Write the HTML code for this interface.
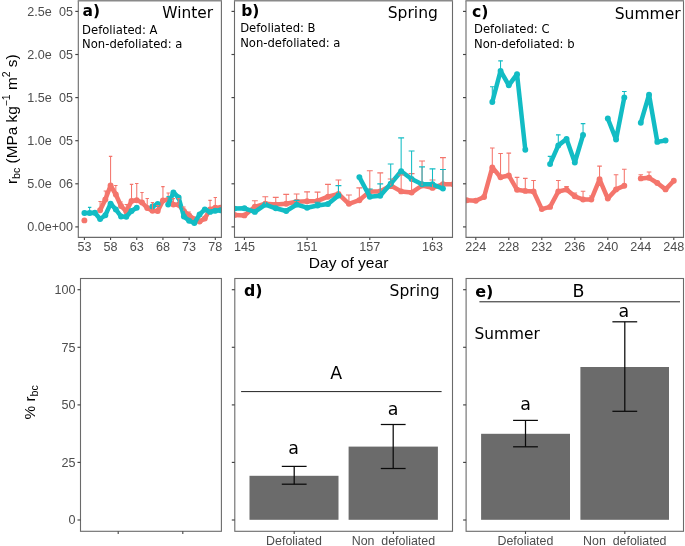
<!DOCTYPE html>
<html lang="en"><head><meta charset="utf-8"><title>Figure</title>
<style>html,body{margin:0;padding:0;background:#fff}svg text{white-space:pre}</style></head>
<body>
<svg width="685" height="546" viewBox="0 0 685 546" style="display:block">
<rect x="0" y="0" width="685" height="546" fill="#ffffff"/>
<defs>
<clipPath id="ca"><rect x="78.3" y="0.7" width="143.10000000000002" height="236.70000000000002"/></clipPath>
<clipPath id="cb"><rect x="234.5" y="0.7" width="218.0" height="236.70000000000002"/></clipPath>
<clipPath id="cc"><rect x="466.0" y="0.7" width="217.5" height="236.70000000000002"/></clipPath>
</defs>
<g clip-path="url(#ca)">
<polyline points="100.11,210.20 105.34,199.50 110.58,185.50 115.82,194.50 121.05,206.00 126.29,211.40 131.52,201.00 136.76,200.30 142.00,202.50 147.23,208.00 152.47,210.70 157.70,211.00 162.94,200.50 168.18,199.60 173.41,204.60 178.65,204.80 183.88,211.00 189.12,215.40 194.36,219.30 199.59,221.50 204.83,218.50 210.06,209.40 215.30,207.80 220.54,207.80 225.77,207.80" fill="none" stroke="#F4756C" stroke-width="4.5" stroke-linejoin="round" stroke-linecap="butt"/>
<circle cx="100.11" cy="210.20" r="2.95" fill="#F4756C"/>
<circle cx="105.34" cy="199.50" r="2.95" fill="#F4756C"/>
<circle cx="110.58" cy="185.50" r="2.95" fill="#F4756C"/>
<circle cx="115.82" cy="194.50" r="2.95" fill="#F4756C"/>
<circle cx="121.05" cy="206.00" r="2.95" fill="#F4756C"/>
<circle cx="126.29" cy="211.40" r="2.95" fill="#F4756C"/>
<circle cx="131.52" cy="201.00" r="2.95" fill="#F4756C"/>
<circle cx="136.76" cy="200.30" r="2.95" fill="#F4756C"/>
<circle cx="142.00" cy="202.50" r="2.95" fill="#F4756C"/>
<circle cx="147.23" cy="208.00" r="2.95" fill="#F4756C"/>
<circle cx="152.47" cy="210.70" r="2.95" fill="#F4756C"/>
<circle cx="157.70" cy="211.00" r="2.95" fill="#F4756C"/>
<circle cx="162.94" cy="200.50" r="2.95" fill="#F4756C"/>
<circle cx="168.18" cy="199.60" r="2.95" fill="#F4756C"/>
<circle cx="173.41" cy="204.60" r="2.95" fill="#F4756C"/>
<circle cx="178.65" cy="204.80" r="2.95" fill="#F4756C"/>
<circle cx="183.88" cy="211.00" r="2.95" fill="#F4756C"/>
<circle cx="189.12" cy="215.40" r="2.95" fill="#F4756C"/>
<circle cx="194.36" cy="219.30" r="2.95" fill="#F4756C"/>
<circle cx="199.59" cy="221.50" r="2.95" fill="#F4756C"/>
<circle cx="204.83" cy="218.50" r="2.95" fill="#F4756C"/>
<circle cx="210.06" cy="209.40" r="2.95" fill="#F4756C"/>
<circle cx="215.30" cy="207.80" r="2.95" fill="#F4756C"/>
<circle cx="220.54" cy="207.80" r="2.95" fill="#F4756C"/>
<circle cx="225.77" cy="207.80" r="2.95" fill="#F4756C"/>
<circle cx="84.40" cy="220.40" r="2.95" fill="#F4756C"/>
<polyline points="84.40,213.00 89.64,213.00 94.87,212.70 100.11,219.00 105.34,215.20 110.58,203.60 115.82,209.40 121.05,216.50 126.29,216.80 131.52,211.00 136.76,207.70" fill="none" stroke="#12BCC4" stroke-width="4.5" stroke-linejoin="round" stroke-linecap="butt"/>
<polyline points="152.47,206.50 157.70,204.00" fill="none" stroke="#12BCC4" stroke-width="4.5" stroke-linejoin="round" stroke-linecap="butt"/>
<polyline points="168.18,204.60 173.41,192.50 178.65,197.50 183.88,216.50 189.12,220.80 194.36,223.00 199.59,214.50 204.83,209.40 210.06,211.90 215.30,210.70 220.54,210.20 225.77,210.20" fill="none" stroke="#12BCC4" stroke-width="4.5" stroke-linejoin="round" stroke-linecap="butt"/>
<circle cx="84.40" cy="213.00" r="2.95" fill="#12BCC4"/>
<circle cx="89.64" cy="213.00" r="2.95" fill="#12BCC4"/>
<circle cx="94.87" cy="212.70" r="2.95" fill="#12BCC4"/>
<circle cx="100.11" cy="219.00" r="2.95" fill="#12BCC4"/>
<circle cx="105.34" cy="215.20" r="2.95" fill="#12BCC4"/>
<circle cx="110.58" cy="203.60" r="2.95" fill="#12BCC4"/>
<circle cx="115.82" cy="209.40" r="2.95" fill="#12BCC4"/>
<circle cx="121.05" cy="216.50" r="2.95" fill="#12BCC4"/>
<circle cx="126.29" cy="216.80" r="2.95" fill="#12BCC4"/>
<circle cx="131.52" cy="211.00" r="2.95" fill="#12BCC4"/>
<circle cx="136.76" cy="207.70" r="2.95" fill="#12BCC4"/>
<circle cx="152.47" cy="206.50" r="2.95" fill="#12BCC4"/>
<circle cx="157.70" cy="204.00" r="2.95" fill="#12BCC4"/>
<circle cx="168.18" cy="204.60" r="2.95" fill="#12BCC4"/>
<circle cx="173.41" cy="192.50" r="2.95" fill="#12BCC4"/>
<circle cx="178.65" cy="197.50" r="2.95" fill="#12BCC4"/>
<circle cx="183.88" cy="216.50" r="2.95" fill="#12BCC4"/>
<circle cx="189.12" cy="220.80" r="2.95" fill="#12BCC4"/>
<circle cx="194.36" cy="223.00" r="2.95" fill="#12BCC4"/>
<circle cx="199.59" cy="214.50" r="2.95" fill="#12BCC4"/>
<circle cx="204.83" cy="209.40" r="2.95" fill="#12BCC4"/>
<circle cx="210.06" cy="211.90" r="2.95" fill="#12BCC4"/>
<circle cx="215.30" cy="210.70" r="2.95" fill="#12BCC4"/>
<circle cx="220.54" cy="210.20" r="2.95" fill="#12BCC4"/>
<circle cx="225.77" cy="210.20" r="2.95" fill="#12BCC4"/>
<line x1="100.11" y1="210.20" x2="100.11" y2="201.50" stroke="#F4756C" stroke-width="1.05" />
<line x1="98.41" y1="201.50" x2="101.81" y2="201.50" stroke="#F4756C" stroke-width="1.15" />
<line x1="105.34" y1="199.50" x2="105.34" y2="191.00" stroke="#F4756C" stroke-width="1.05" />
<line x1="103.64" y1="191.00" x2="107.04" y2="191.00" stroke="#F4756C" stroke-width="1.15" />
<line x1="110.58" y1="185.50" x2="110.58" y2="156.30" stroke="#F4756C" stroke-width="1.05" />
<line x1="108.88" y1="156.30" x2="112.28" y2="156.30" stroke="#F4756C" stroke-width="1.15" />
<line x1="115.82" y1="194.50" x2="115.82" y2="185.50" stroke="#F4756C" stroke-width="1.05" />
<line x1="114.12" y1="185.50" x2="117.52" y2="185.50" stroke="#F4756C" stroke-width="1.15" />
<line x1="121.05" y1="206.00" x2="121.05" y2="202.00" stroke="#F4756C" stroke-width="1.05" />
<line x1="119.35" y1="202.00" x2="122.75" y2="202.00" stroke="#F4756C" stroke-width="1.15" />
<line x1="126.29" y1="211.40" x2="126.29" y2="204.50" stroke="#F4756C" stroke-width="1.05" />
<line x1="124.59" y1="204.50" x2="127.99" y2="204.50" stroke="#F4756C" stroke-width="1.15" />
<line x1="131.52" y1="201.00" x2="131.52" y2="184.30" stroke="#F4756C" stroke-width="1.05" />
<line x1="129.82" y1="184.30" x2="133.22" y2="184.30" stroke="#F4756C" stroke-width="1.15" />
<line x1="136.76" y1="200.30" x2="136.76" y2="183.50" stroke="#F4756C" stroke-width="1.05" />
<line x1="135.06" y1="183.50" x2="138.46" y2="183.50" stroke="#F4756C" stroke-width="1.15" />
<line x1="142.00" y1="202.50" x2="142.00" y2="192.50" stroke="#F4756C" stroke-width="1.05" />
<line x1="140.30" y1="192.50" x2="143.70" y2="192.50" stroke="#F4756C" stroke-width="1.15" />
<line x1="147.23" y1="208.00" x2="147.23" y2="198.50" stroke="#F4756C" stroke-width="1.05" />
<line x1="145.53" y1="198.50" x2="148.93" y2="198.50" stroke="#F4756C" stroke-width="1.15" />
<line x1="152.47" y1="210.70" x2="152.47" y2="202.50" stroke="#F4756C" stroke-width="1.05" />
<line x1="150.77" y1="202.50" x2="154.17" y2="202.50" stroke="#F4756C" stroke-width="1.15" />
<line x1="157.70" y1="211.00" x2="157.70" y2="205.50" stroke="#F4756C" stroke-width="1.05" />
<line x1="156.00" y1="205.50" x2="159.40" y2="205.50" stroke="#F4756C" stroke-width="1.15" />
<line x1="162.94" y1="200.50" x2="162.94" y2="186.60" stroke="#F4756C" stroke-width="1.05" />
<line x1="161.24" y1="186.60" x2="164.64" y2="186.60" stroke="#F4756C" stroke-width="1.15" />
<line x1="168.18" y1="199.60" x2="168.18" y2="193.00" stroke="#F4756C" stroke-width="1.05" />
<line x1="166.48" y1="193.00" x2="169.88" y2="193.00" stroke="#F4756C" stroke-width="1.15" />
<line x1="173.41" y1="204.60" x2="173.41" y2="198.60" stroke="#F4756C" stroke-width="1.05" />
<line x1="171.71" y1="198.60" x2="175.11" y2="198.60" stroke="#F4756C" stroke-width="1.15" />
<line x1="178.65" y1="204.80" x2="178.65" y2="198.60" stroke="#F4756C" stroke-width="1.05" />
<line x1="176.95" y1="198.60" x2="180.35" y2="198.60" stroke="#F4756C" stroke-width="1.15" />
<line x1="183.88" y1="211.00" x2="183.88" y2="207.00" stroke="#F4756C" stroke-width="1.05" />
<line x1="182.18" y1="207.00" x2="185.58" y2="207.00" stroke="#F4756C" stroke-width="1.15" />
<line x1="189.12" y1="215.40" x2="189.12" y2="212.00" stroke="#F4756C" stroke-width="1.05" />
<line x1="187.42" y1="212.00" x2="190.82" y2="212.00" stroke="#F4756C" stroke-width="1.15" />
<line x1="210.06" y1="209.40" x2="210.06" y2="200.30" stroke="#F4756C" stroke-width="1.05" />
<line x1="208.36" y1="200.30" x2="211.76" y2="200.30" stroke="#F4756C" stroke-width="1.15" />
<line x1="215.30" y1="207.80" x2="215.30" y2="197.50" stroke="#F4756C" stroke-width="1.05" />
<line x1="213.60" y1="197.50" x2="217.00" y2="197.50" stroke="#F4756C" stroke-width="1.15" />
<line x1="89.64" y1="213.00" x2="89.64" y2="207.40" stroke="#12BCC4" stroke-width="1.05" />
<line x1="87.94" y1="207.40" x2="91.34" y2="207.40" stroke="#12BCC4" stroke-width="1.15" />
<line x1="168.18" y1="204.60" x2="168.18" y2="196.50" stroke="#12BCC4" stroke-width="1.05" />
<line x1="166.48" y1="196.50" x2="169.88" y2="196.50" stroke="#12BCC4" stroke-width="1.15" />
</g>
<g clip-path="url(#cb)">
<polyline points="234.58,215.00 244.40,215.40 254.85,206.80 265.30,203.70 275.75,204.60 286.20,203.70 296.65,201.80 307.10,201.30 317.55,200.90 328.00,196.70 338.45,193.90 348.90,203.80 359.35,200.20 369.80,191.40 380.25,191.40 390.70,185.50 401.15,191.40 411.60,192.60 422.05,185.50 432.50,187.90 442.95,184.30 453.40,184.30" fill="none" stroke="#F4756C" stroke-width="4.5" stroke-linejoin="round" stroke-linecap="butt"/>
<circle cx="234.58" cy="215.00" r="2.95" fill="#F4756C"/>
<circle cx="244.40" cy="215.40" r="2.95" fill="#F4756C"/>
<circle cx="254.85" cy="206.80" r="2.95" fill="#F4756C"/>
<circle cx="265.30" cy="203.70" r="2.95" fill="#F4756C"/>
<circle cx="275.75" cy="204.60" r="2.95" fill="#F4756C"/>
<circle cx="286.20" cy="203.70" r="2.95" fill="#F4756C"/>
<circle cx="296.65" cy="201.80" r="2.95" fill="#F4756C"/>
<circle cx="307.10" cy="201.30" r="2.95" fill="#F4756C"/>
<circle cx="317.55" cy="200.90" r="2.95" fill="#F4756C"/>
<circle cx="328.00" cy="196.70" r="2.95" fill="#F4756C"/>
<circle cx="338.45" cy="193.90" r="2.95" fill="#F4756C"/>
<circle cx="348.90" cy="203.80" r="2.95" fill="#F4756C"/>
<circle cx="359.35" cy="200.20" r="2.95" fill="#F4756C"/>
<circle cx="369.80" cy="191.40" r="2.95" fill="#F4756C"/>
<circle cx="380.25" cy="191.40" r="2.95" fill="#F4756C"/>
<circle cx="390.70" cy="185.50" r="2.95" fill="#F4756C"/>
<circle cx="401.15" cy="191.40" r="2.95" fill="#F4756C"/>
<circle cx="411.60" cy="192.60" r="2.95" fill="#F4756C"/>
<circle cx="422.05" cy="185.50" r="2.95" fill="#F4756C"/>
<circle cx="432.50" cy="187.90" r="2.95" fill="#F4756C"/>
<circle cx="442.95" cy="184.30" r="2.95" fill="#F4756C"/>
<circle cx="453.40" cy="184.30" r="2.95" fill="#F4756C"/>
<polyline points="234.58,208.60 244.40,208.30 254.85,211.90 265.30,204.60 275.75,208.30 286.20,211.00 296.65,204.60 307.10,207.70 317.55,205.50 328.00,204.00 338.45,195.50" fill="none" stroke="#12BCC4" stroke-width="4.5" stroke-linejoin="round" stroke-linecap="butt"/>
<polyline points="359.35,177.10 369.80,196.70 380.25,195.70 390.70,183.80 401.15,171.20 411.60,179.00 422.05,184.30 432.50,184.30 442.95,188.60" fill="none" stroke="#12BCC4" stroke-width="4.5" stroke-linejoin="round" stroke-linecap="butt"/>
<circle cx="234.58" cy="208.60" r="2.95" fill="#12BCC4"/>
<circle cx="244.40" cy="208.30" r="2.95" fill="#12BCC4"/>
<circle cx="254.85" cy="211.90" r="2.95" fill="#12BCC4"/>
<circle cx="265.30" cy="204.60" r="2.95" fill="#12BCC4"/>
<circle cx="275.75" cy="208.30" r="2.95" fill="#12BCC4"/>
<circle cx="286.20" cy="211.00" r="2.95" fill="#12BCC4"/>
<circle cx="296.65" cy="204.60" r="2.95" fill="#12BCC4"/>
<circle cx="307.10" cy="207.70" r="2.95" fill="#12BCC4"/>
<circle cx="317.55" cy="205.50" r="2.95" fill="#12BCC4"/>
<circle cx="328.00" cy="204.00" r="2.95" fill="#12BCC4"/>
<circle cx="338.45" cy="195.50" r="2.95" fill="#12BCC4"/>
<circle cx="359.35" cy="177.10" r="2.95" fill="#12BCC4"/>
<circle cx="369.80" cy="196.70" r="2.95" fill="#12BCC4"/>
<circle cx="380.25" cy="195.70" r="2.95" fill="#12BCC4"/>
<circle cx="390.70" cy="183.80" r="2.95" fill="#12BCC4"/>
<circle cx="401.15" cy="171.20" r="2.95" fill="#12BCC4"/>
<circle cx="411.60" cy="179.00" r="2.95" fill="#12BCC4"/>
<circle cx="422.05" cy="184.30" r="2.95" fill="#12BCC4"/>
<circle cx="432.50" cy="184.30" r="2.95" fill="#12BCC4"/>
<circle cx="442.95" cy="188.60" r="2.95" fill="#12BCC4"/>
<line x1="254.85" y1="206.80" x2="254.85" y2="200.70" stroke="#F4756C" stroke-width="1.05" />
<line x1="251.90" y1="200.70" x2="257.80" y2="200.70" stroke="#F4756C" stroke-width="1.15" />
<line x1="265.30" y1="203.70" x2="265.30" y2="196.70" stroke="#F4756C" stroke-width="1.05" />
<line x1="262.35" y1="196.70" x2="268.25" y2="196.70" stroke="#F4756C" stroke-width="1.15" />
<line x1="275.75" y1="204.60" x2="275.75" y2="197.30" stroke="#F4756C" stroke-width="1.05" />
<line x1="272.80" y1="197.30" x2="278.70" y2="197.30" stroke="#F4756C" stroke-width="1.15" />
<line x1="286.20" y1="203.70" x2="286.20" y2="194.30" stroke="#F4756C" stroke-width="1.05" />
<line x1="283.25" y1="194.30" x2="289.15" y2="194.30" stroke="#F4756C" stroke-width="1.15" />
<line x1="296.65" y1="201.80" x2="296.65" y2="194.00" stroke="#F4756C" stroke-width="1.05" />
<line x1="293.70" y1="194.00" x2="299.60" y2="194.00" stroke="#F4756C" stroke-width="1.15" />
<line x1="307.10" y1="201.30" x2="307.10" y2="191.80" stroke="#F4756C" stroke-width="1.05" />
<line x1="304.15" y1="191.80" x2="310.05" y2="191.80" stroke="#F4756C" stroke-width="1.15" />
<line x1="317.55" y1="200.90" x2="317.55" y2="192.10" stroke="#F4756C" stroke-width="1.05" />
<line x1="314.60" y1="192.10" x2="320.50" y2="192.10" stroke="#F4756C" stroke-width="1.15" />
<line x1="328.00" y1="196.70" x2="328.00" y2="184.40" stroke="#F4756C" stroke-width="1.05" />
<line x1="325.05" y1="184.40" x2="330.95" y2="184.40" stroke="#F4756C" stroke-width="1.15" />
<line x1="338.45" y1="193.90" x2="338.45" y2="180.00" stroke="#F4756C" stroke-width="1.05" />
<line x1="335.50" y1="180.00" x2="341.40" y2="180.00" stroke="#F4756C" stroke-width="1.15" />
<line x1="348.90" y1="203.80" x2="348.90" y2="195.00" stroke="#F4756C" stroke-width="1.05" />
<line x1="345.95" y1="195.00" x2="351.85" y2="195.00" stroke="#F4756C" stroke-width="1.15" />
<line x1="359.35" y1="200.20" x2="359.35" y2="187.90" stroke="#F4756C" stroke-width="1.05" />
<line x1="356.40" y1="187.90" x2="362.30" y2="187.90" stroke="#F4756C" stroke-width="1.15" />
<line x1="369.80" y1="191.40" x2="369.80" y2="170.70" stroke="#F4756C" stroke-width="1.05" />
<line x1="366.85" y1="170.70" x2="372.75" y2="170.70" stroke="#F4756C" stroke-width="1.15" />
<line x1="380.25" y1="191.40" x2="380.25" y2="172.90" stroke="#F4756C" stroke-width="1.05" />
<line x1="377.30" y1="172.90" x2="383.20" y2="172.90" stroke="#F4756C" stroke-width="1.15" />
<line x1="390.70" y1="185.50" x2="390.70" y2="179.00" stroke="#F4756C" stroke-width="1.05" />
<line x1="387.75" y1="179.00" x2="393.65" y2="179.00" stroke="#F4756C" stroke-width="1.15" />
<line x1="401.15" y1="191.40" x2="401.15" y2="175.00" stroke="#F4756C" stroke-width="1.05" />
<line x1="398.20" y1="175.00" x2="404.10" y2="175.00" stroke="#F4756C" stroke-width="1.15" />
<line x1="411.60" y1="192.60" x2="411.60" y2="173.60" stroke="#F4756C" stroke-width="1.05" />
<line x1="408.65" y1="173.60" x2="414.55" y2="173.60" stroke="#F4756C" stroke-width="1.15" />
<line x1="422.05" y1="185.50" x2="422.05" y2="161.00" stroke="#F4756C" stroke-width="1.05" />
<line x1="419.10" y1="161.00" x2="425.00" y2="161.00" stroke="#F4756C" stroke-width="1.15" />
<line x1="432.50" y1="187.90" x2="432.50" y2="180.00" stroke="#F4756C" stroke-width="1.05" />
<line x1="429.55" y1="180.00" x2="435.45" y2="180.00" stroke="#F4756C" stroke-width="1.15" />
<line x1="442.95" y1="184.30" x2="442.95" y2="157.60" stroke="#F4756C" stroke-width="1.05" />
<line x1="440.00" y1="157.60" x2="445.90" y2="157.60" stroke="#F4756C" stroke-width="1.15" />
<line x1="296.65" y1="204.60" x2="296.65" y2="200.40" stroke="#12BCC4" stroke-width="1.05" />
<line x1="293.70" y1="200.40" x2="299.60" y2="200.40" stroke="#12BCC4" stroke-width="1.15" />
<line x1="317.55" y1="205.50" x2="317.55" y2="202.20" stroke="#12BCC4" stroke-width="1.05" />
<line x1="314.60" y1="202.20" x2="320.50" y2="202.20" stroke="#12BCC4" stroke-width="1.15" />
<line x1="338.45" y1="195.50" x2="338.45" y2="185.60" stroke="#12BCC4" stroke-width="1.05" />
<line x1="335.50" y1="185.60" x2="341.40" y2="185.60" stroke="#12BCC4" stroke-width="1.15" />
<line x1="369.80" y1="196.70" x2="369.80" y2="189.00" stroke="#12BCC4" stroke-width="1.05" />
<line x1="366.85" y1="189.00" x2="372.75" y2="189.00" stroke="#12BCC4" stroke-width="1.15" />
<line x1="380.25" y1="195.70" x2="380.25" y2="183.80" stroke="#12BCC4" stroke-width="1.05" />
<line x1="377.30" y1="183.80" x2="383.20" y2="183.80" stroke="#12BCC4" stroke-width="1.15" />
<line x1="390.70" y1="183.80" x2="390.70" y2="164.00" stroke="#12BCC4" stroke-width="1.05" />
<line x1="387.75" y1="164.00" x2="393.65" y2="164.00" stroke="#12BCC4" stroke-width="1.15" />
<line x1="401.15" y1="171.20" x2="401.15" y2="137.90" stroke="#12BCC4" stroke-width="1.05" />
<line x1="398.20" y1="137.90" x2="404.10" y2="137.90" stroke="#12BCC4" stroke-width="1.15" />
<line x1="411.60" y1="179.00" x2="411.60" y2="151.00" stroke="#12BCC4" stroke-width="1.05" />
<line x1="408.65" y1="151.00" x2="414.55" y2="151.00" stroke="#12BCC4" stroke-width="1.15" />
<line x1="422.05" y1="184.30" x2="422.05" y2="166.90" stroke="#12BCC4" stroke-width="1.05" />
<line x1="419.10" y1="166.90" x2="425.00" y2="166.90" stroke="#12BCC4" stroke-width="1.15" />
<line x1="432.50" y1="184.30" x2="432.50" y2="168.80" stroke="#12BCC4" stroke-width="1.05" />
<line x1="429.55" y1="168.80" x2="435.45" y2="168.80" stroke="#12BCC4" stroke-width="1.15" />
<line x1="442.95" y1="188.60" x2="442.95" y2="169.50" stroke="#12BCC4" stroke-width="1.05" />
<line x1="440.00" y1="169.50" x2="445.90" y2="169.50" stroke="#12BCC4" stroke-width="1.15" />
</g>
<g clip-path="url(#cc)">
<polyline points="466.73,200.30 475.80,200.80 484.05,197.00 492.30,167.40 500.55,177.30 508.80,175.50 517.05,189.80 525.30,190.90 533.55,191.50 541.80,209.10 550.05,206.90 558.30,191.50 566.55,189.60 574.80,196.30 583.05,199.50 591.30,199.50 599.55,179.30 607.80,198.60 616.05,189.40 624.30,185.70" fill="none" stroke="#F4756C" stroke-width="4.5" stroke-linejoin="round" stroke-linecap="butt"/>
<polyline points="640.80,178.40 649.05,177.80 657.30,183.00 665.55,189.40 673.80,180.80" fill="none" stroke="#F4756C" stroke-width="4.5" stroke-linejoin="round" stroke-linecap="butt"/>
<circle cx="466.73" cy="200.30" r="2.95" fill="#F4756C"/>
<circle cx="475.80" cy="200.80" r="2.95" fill="#F4756C"/>
<circle cx="484.05" cy="197.00" r="2.95" fill="#F4756C"/>
<circle cx="492.30" cy="167.40" r="2.95" fill="#F4756C"/>
<circle cx="500.55" cy="177.30" r="2.95" fill="#F4756C"/>
<circle cx="508.80" cy="175.50" r="2.95" fill="#F4756C"/>
<circle cx="517.05" cy="189.80" r="2.95" fill="#F4756C"/>
<circle cx="525.30" cy="190.90" r="2.95" fill="#F4756C"/>
<circle cx="533.55" cy="191.50" r="2.95" fill="#F4756C"/>
<circle cx="541.80" cy="209.10" r="2.95" fill="#F4756C"/>
<circle cx="550.05" cy="206.90" r="2.95" fill="#F4756C"/>
<circle cx="558.30" cy="191.50" r="2.95" fill="#F4756C"/>
<circle cx="566.55" cy="189.60" r="2.95" fill="#F4756C"/>
<circle cx="574.80" cy="196.30" r="2.95" fill="#F4756C"/>
<circle cx="583.05" cy="199.50" r="2.95" fill="#F4756C"/>
<circle cx="591.30" cy="199.50" r="2.95" fill="#F4756C"/>
<circle cx="599.55" cy="179.30" r="2.95" fill="#F4756C"/>
<circle cx="607.80" cy="198.60" r="2.95" fill="#F4756C"/>
<circle cx="616.05" cy="189.40" r="2.95" fill="#F4756C"/>
<circle cx="624.30" cy="185.70" r="2.95" fill="#F4756C"/>
<circle cx="640.80" cy="178.40" r="2.95" fill="#F4756C"/>
<circle cx="649.05" cy="177.80" r="2.95" fill="#F4756C"/>
<circle cx="657.30" cy="183.00" r="2.95" fill="#F4756C"/>
<circle cx="665.55" cy="189.40" r="2.95" fill="#F4756C"/>
<circle cx="673.80" cy="180.80" r="2.95" fill="#F4756C"/>
<polyline points="492.30,102.00 500.55,70.90 508.80,85.30 517.05,74.20 525.30,149.80" fill="none" stroke="#12BCC4" stroke-width="4.5" stroke-linejoin="round" stroke-linecap="butt"/>
<polyline points="550.05,164.10 558.30,145.40 566.55,139.00 574.80,162.50 583.05,135.00" fill="none" stroke="#12BCC4" stroke-width="4.5" stroke-linejoin="round" stroke-linecap="butt"/>
<polyline points="607.80,118.50 616.05,139.50 624.30,97.40" fill="none" stroke="#12BCC4" stroke-width="4.5" stroke-linejoin="round" stroke-linecap="butt"/>
<polyline points="640.80,122.70 649.05,94.70 657.30,141.90 665.55,140.50" fill="none" stroke="#12BCC4" stroke-width="4.5" stroke-linejoin="round" stroke-linecap="butt"/>
<circle cx="492.30" cy="102.00" r="2.95" fill="#12BCC4"/>
<circle cx="500.55" cy="70.90" r="2.95" fill="#12BCC4"/>
<circle cx="508.80" cy="85.30" r="2.95" fill="#12BCC4"/>
<circle cx="517.05" cy="74.20" r="2.95" fill="#12BCC4"/>
<circle cx="525.30" cy="149.80" r="2.95" fill="#12BCC4"/>
<circle cx="550.05" cy="164.10" r="2.95" fill="#12BCC4"/>
<circle cx="558.30" cy="145.40" r="2.95" fill="#12BCC4"/>
<circle cx="566.55" cy="139.00" r="2.95" fill="#12BCC4"/>
<circle cx="574.80" cy="162.50" r="2.95" fill="#12BCC4"/>
<circle cx="583.05" cy="135.00" r="2.95" fill="#12BCC4"/>
<circle cx="607.80" cy="118.50" r="2.95" fill="#12BCC4"/>
<circle cx="616.05" cy="139.50" r="2.95" fill="#12BCC4"/>
<circle cx="624.30" cy="97.40" r="2.95" fill="#12BCC4"/>
<circle cx="640.80" cy="122.70" r="2.95" fill="#12BCC4"/>
<circle cx="649.05" cy="94.70" r="2.95" fill="#12BCC4"/>
<circle cx="657.30" cy="141.90" r="2.95" fill="#12BCC4"/>
<circle cx="665.55" cy="140.50" r="2.95" fill="#12BCC4"/>
<line x1="492.30" y1="167.40" x2="492.30" y2="148.00" stroke="#F4756C" stroke-width="1.05" />
<line x1="490.00" y1="148.00" x2="494.60" y2="148.00" stroke="#F4756C" stroke-width="1.15" />
<line x1="500.55" y1="177.30" x2="500.55" y2="153.50" stroke="#F4756C" stroke-width="1.05" />
<line x1="498.25" y1="153.50" x2="502.85" y2="153.50" stroke="#F4756C" stroke-width="1.15" />
<line x1="508.80" y1="175.50" x2="508.80" y2="153.10" stroke="#F4756C" stroke-width="1.05" />
<line x1="506.50" y1="153.10" x2="511.10" y2="153.10" stroke="#F4756C" stroke-width="1.15" />
<line x1="517.05" y1="189.80" x2="517.05" y2="177.30" stroke="#F4756C" stroke-width="1.05" />
<line x1="514.75" y1="177.30" x2="519.35" y2="177.30" stroke="#F4756C" stroke-width="1.15" />
<line x1="525.30" y1="190.90" x2="525.30" y2="178.40" stroke="#F4756C" stroke-width="1.05" />
<line x1="523.00" y1="178.40" x2="527.60" y2="178.40" stroke="#F4756C" stroke-width="1.15" />
<line x1="533.55" y1="191.50" x2="533.55" y2="180.50" stroke="#F4756C" stroke-width="1.05" />
<line x1="531.25" y1="180.50" x2="535.85" y2="180.50" stroke="#F4756C" stroke-width="1.15" />
<line x1="558.30" y1="191.50" x2="558.30" y2="180.50" stroke="#F4756C" stroke-width="1.05" />
<line x1="556.00" y1="180.50" x2="560.60" y2="180.50" stroke="#F4756C" stroke-width="1.15" />
<line x1="566.55" y1="189.60" x2="566.55" y2="186.50" stroke="#F4756C" stroke-width="1.05" />
<line x1="564.25" y1="186.50" x2="568.85" y2="186.50" stroke="#F4756C" stroke-width="1.15" />
<line x1="574.80" y1="196.30" x2="574.80" y2="193.00" stroke="#F4756C" stroke-width="1.05" />
<line x1="572.50" y1="193.00" x2="577.10" y2="193.00" stroke="#F4756C" stroke-width="1.15" />
<line x1="583.05" y1="199.50" x2="583.05" y2="191.20" stroke="#F4756C" stroke-width="1.05" />
<line x1="580.75" y1="191.20" x2="585.35" y2="191.20" stroke="#F4756C" stroke-width="1.15" />
<line x1="591.30" y1="199.50" x2="591.30" y2="196.00" stroke="#F4756C" stroke-width="1.05" />
<line x1="589.00" y1="196.00" x2="593.60" y2="196.00" stroke="#F4756C" stroke-width="1.15" />
<line x1="599.55" y1="179.30" x2="599.55" y2="166.10" stroke="#F4756C" stroke-width="1.05" />
<line x1="597.25" y1="166.10" x2="601.85" y2="166.10" stroke="#F4756C" stroke-width="1.15" />
<line x1="616.05" y1="189.40" x2="616.05" y2="174.70" stroke="#F4756C" stroke-width="1.05" />
<line x1="613.75" y1="174.70" x2="618.35" y2="174.70" stroke="#F4756C" stroke-width="1.15" />
<line x1="624.30" y1="185.70" x2="624.30" y2="169.20" stroke="#F4756C" stroke-width="1.05" />
<line x1="622.00" y1="169.20" x2="626.60" y2="169.20" stroke="#F4756C" stroke-width="1.15" />
<line x1="640.80" y1="178.40" x2="640.80" y2="174.70" stroke="#F4756C" stroke-width="1.05" />
<line x1="638.50" y1="174.70" x2="643.10" y2="174.70" stroke="#F4756C" stroke-width="1.15" />
<line x1="649.05" y1="177.80" x2="649.05" y2="172.00" stroke="#F4756C" stroke-width="1.05" />
<line x1="646.75" y1="172.00" x2="651.35" y2="172.00" stroke="#F4756C" stroke-width="1.15" />
<line x1="492.30" y1="102.00" x2="492.30" y2="86.70" stroke="#12BCC4" stroke-width="1.05" />
<line x1="490.00" y1="86.70" x2="494.60" y2="86.70" stroke="#12BCC4" stroke-width="1.15" />
<line x1="500.55" y1="70.90" x2="500.55" y2="60.80" stroke="#12BCC4" stroke-width="1.05" />
<line x1="498.25" y1="60.80" x2="502.85" y2="60.80" stroke="#12BCC4" stroke-width="1.15" />
<line x1="550.05" y1="164.10" x2="550.05" y2="156.40" stroke="#12BCC4" stroke-width="1.05" />
<line x1="547.75" y1="156.40" x2="552.35" y2="156.40" stroke="#12BCC4" stroke-width="1.15" />
<line x1="558.30" y1="145.40" x2="558.30" y2="134.80" stroke="#12BCC4" stroke-width="1.05" />
<line x1="556.00" y1="134.80" x2="560.60" y2="134.80" stroke="#12BCC4" stroke-width="1.15" />
<line x1="583.05" y1="135.00" x2="583.05" y2="123.60" stroke="#12BCC4" stroke-width="1.05" />
<line x1="580.75" y1="123.60" x2="585.35" y2="123.60" stroke="#12BCC4" stroke-width="1.15" />
<line x1="624.30" y1="97.40" x2="624.30" y2="91.50" stroke="#12BCC4" stroke-width="1.05" />
<line x1="622.00" y1="91.50" x2="626.60" y2="91.50" stroke="#12BCC4" stroke-width="1.15" />
</g>
<path d="M78.30,0.70 V237.40 H221.40 V0.70" fill="none" stroke="#6a6a6a" stroke-width="1.1"/>
<line x1="77.75" y1="0.70" x2="221.95" y2="0.70" stroke="#8a8a8a" stroke-width="1.4" />
<path d="M234.50,0.70 V237.40 H452.50 V0.70" fill="none" stroke="#6a6a6a" stroke-width="1.1"/>
<line x1="233.95" y1="0.70" x2="453.05" y2="0.70" stroke="#8a8a8a" stroke-width="1.4" />
<path d="M466.00,0.70 V237.40 H683.50 V0.70" fill="none" stroke="#6a6a6a" stroke-width="1.1"/>
<line x1="465.45" y1="0.70" x2="684.05" y2="0.70" stroke="#8a8a8a" stroke-width="1.4" />
<rect x="80.50" y="278.50" width="140.90" height="252.80" fill="none" stroke="#6a6a6a" stroke-width="1.1"/>
<rect x="234.80" y="278.50" width="217.70" height="252.80" fill="none" stroke="#6a6a6a" stroke-width="1.1"/>
<rect x="466.10" y="278.50" width="217.40" height="252.80" fill="none" stroke="#6a6a6a" stroke-width="1.1"/>
<line x1="75.30" y1="11.40" x2="78.30" y2="11.40" stroke="#444444" stroke-width="1.15" />
<line x1="75.30" y1="54.50" x2="78.30" y2="54.50" stroke="#444444" stroke-width="1.15" />
<line x1="75.30" y1="97.60" x2="78.30" y2="97.60" stroke="#444444" stroke-width="1.15" />
<line x1="75.30" y1="140.70" x2="78.30" y2="140.70" stroke="#444444" stroke-width="1.15" />
<line x1="75.30" y1="183.80" x2="78.30" y2="183.80" stroke="#444444" stroke-width="1.15" />
<line x1="75.30" y1="226.90" x2="78.30" y2="226.90" stroke="#444444" stroke-width="1.15" />
<line x1="231.50" y1="11.40" x2="234.50" y2="11.40" stroke="#444444" stroke-width="1.15" />
<line x1="231.50" y1="54.50" x2="234.50" y2="54.50" stroke="#444444" stroke-width="1.15" />
<line x1="231.50" y1="97.60" x2="234.50" y2="97.60" stroke="#444444" stroke-width="1.15" />
<line x1="231.50" y1="140.70" x2="234.50" y2="140.70" stroke="#444444" stroke-width="1.15" />
<line x1="231.50" y1="183.80" x2="234.50" y2="183.80" stroke="#444444" stroke-width="1.15" />
<line x1="231.50" y1="226.90" x2="234.50" y2="226.90" stroke="#444444" stroke-width="1.15" />
<line x1="463.00" y1="11.40" x2="466.00" y2="11.40" stroke="#444444" stroke-width="1.15" />
<line x1="463.00" y1="54.50" x2="466.00" y2="54.50" stroke="#444444" stroke-width="1.15" />
<line x1="463.00" y1="97.60" x2="466.00" y2="97.60" stroke="#444444" stroke-width="1.15" />
<line x1="463.00" y1="140.70" x2="466.00" y2="140.70" stroke="#444444" stroke-width="1.15" />
<line x1="463.00" y1="183.80" x2="466.00" y2="183.80" stroke="#444444" stroke-width="1.15" />
<line x1="463.00" y1="226.90" x2="466.00" y2="226.90" stroke="#444444" stroke-width="1.15" />
<text x="73.00" y="15.80" font-family="'Liberation Sans', Arial, sans-serif" font-size="12.6" text-anchor="end" fill="#4d4d4d" font-weight="normal" >05</text>
<text x="27.20" y="15.80" font-family="'Liberation Sans', Arial, sans-serif" font-size="12.6" text-anchor="start" fill="#4d4d4d" font-weight="normal" >2.5e</text>
<text x="73.00" y="58.90" font-family="'Liberation Sans', Arial, sans-serif" font-size="12.6" text-anchor="end" fill="#4d4d4d" font-weight="normal" >05</text>
<text x="27.20" y="58.90" font-family="'Liberation Sans', Arial, sans-serif" font-size="12.6" text-anchor="start" fill="#4d4d4d" font-weight="normal" >2.0e</text>
<text x="73.00" y="102.00" font-family="'Liberation Sans', Arial, sans-serif" font-size="12.6" text-anchor="end" fill="#4d4d4d" font-weight="normal" >05</text>
<text x="27.20" y="102.00" font-family="'Liberation Sans', Arial, sans-serif" font-size="12.6" text-anchor="start" fill="#4d4d4d" font-weight="normal" >1.5e</text>
<text x="73.00" y="145.10" font-family="'Liberation Sans', Arial, sans-serif" font-size="12.6" text-anchor="end" fill="#4d4d4d" font-weight="normal" >05</text>
<text x="27.20" y="145.10" font-family="'Liberation Sans', Arial, sans-serif" font-size="12.6" text-anchor="start" fill="#4d4d4d" font-weight="normal" >1.0e</text>
<text x="73.00" y="188.20" font-family="'Liberation Sans', Arial, sans-serif" font-size="12.6" text-anchor="end" fill="#4d4d4d" font-weight="normal" >06</text>
<text x="27.20" y="188.20" font-family="'Liberation Sans', Arial, sans-serif" font-size="12.6" text-anchor="start" fill="#4d4d4d" font-weight="normal" >5.0e</text>
<text x="73.00" y="231.30" font-family="'Liberation Sans', Arial, sans-serif" font-size="12.6" text-anchor="end" fill="#4d4d4d" font-weight="normal" >0.0e+00</text>
<line x1="84.40" y1="237.40" x2="84.40" y2="240.10" stroke="#444444" stroke-width="1.1" />
<text x="84.40" y="251.40" font-family="'Liberation Sans', Arial, sans-serif" font-size="12.6" text-anchor="middle" fill="#4d4d4d" font-weight="normal" >53</text>
<line x1="110.58" y1="237.40" x2="110.58" y2="240.10" stroke="#444444" stroke-width="1.1" />
<text x="110.58" y="251.40" font-family="'Liberation Sans', Arial, sans-serif" font-size="12.6" text-anchor="middle" fill="#4d4d4d" font-weight="normal" >58</text>
<line x1="136.76" y1="237.40" x2="136.76" y2="240.10" stroke="#444444" stroke-width="1.1" />
<text x="136.76" y="251.40" font-family="'Liberation Sans', Arial, sans-serif" font-size="12.6" text-anchor="middle" fill="#4d4d4d" font-weight="normal" >63</text>
<line x1="162.94" y1="237.40" x2="162.94" y2="240.10" stroke="#444444" stroke-width="1.1" />
<text x="162.94" y="251.40" font-family="'Liberation Sans', Arial, sans-serif" font-size="12.6" text-anchor="middle" fill="#4d4d4d" font-weight="normal" >68</text>
<line x1="189.12" y1="237.40" x2="189.12" y2="240.10" stroke="#444444" stroke-width="1.1" />
<text x="189.12" y="251.40" font-family="'Liberation Sans', Arial, sans-serif" font-size="12.6" text-anchor="middle" fill="#4d4d4d" font-weight="normal" >73</text>
<line x1="215.30" y1="237.40" x2="215.30" y2="240.10" stroke="#444444" stroke-width="1.1" />
<text x="215.30" y="251.40" font-family="'Liberation Sans', Arial, sans-serif" font-size="12.6" text-anchor="middle" fill="#4d4d4d" font-weight="normal" >78</text>
<line x1="244.40" y1="237.40" x2="244.40" y2="240.10" stroke="#444444" stroke-width="1.1" />
<text x="244.40" y="251.40" font-family="'Liberation Sans', Arial, sans-serif" font-size="12.6" text-anchor="middle" fill="#4d4d4d" font-weight="normal" >145</text>
<line x1="307.10" y1="237.40" x2="307.10" y2="240.10" stroke="#444444" stroke-width="1.1" />
<text x="307.10" y="251.40" font-family="'Liberation Sans', Arial, sans-serif" font-size="12.6" text-anchor="middle" fill="#4d4d4d" font-weight="normal" >151</text>
<line x1="369.80" y1="237.40" x2="369.80" y2="240.10" stroke="#444444" stroke-width="1.1" />
<text x="369.80" y="251.40" font-family="'Liberation Sans', Arial, sans-serif" font-size="12.6" text-anchor="middle" fill="#4d4d4d" font-weight="normal" >157</text>
<line x1="432.50" y1="237.40" x2="432.50" y2="240.10" stroke="#444444" stroke-width="1.1" />
<text x="432.50" y="251.40" font-family="'Liberation Sans', Arial, sans-serif" font-size="12.6" text-anchor="middle" fill="#4d4d4d" font-weight="normal" >163</text>
<line x1="475.80" y1="237.40" x2="475.80" y2="240.10" stroke="#444444" stroke-width="1.1" />
<text x="475.80" y="251.40" font-family="'Liberation Sans', Arial, sans-serif" font-size="12.6" text-anchor="middle" fill="#4d4d4d" font-weight="normal" >224</text>
<line x1="508.80" y1="237.40" x2="508.80" y2="240.10" stroke="#444444" stroke-width="1.1" />
<text x="508.80" y="251.40" font-family="'Liberation Sans', Arial, sans-serif" font-size="12.6" text-anchor="middle" fill="#4d4d4d" font-weight="normal" >228</text>
<line x1="541.80" y1="237.40" x2="541.80" y2="240.10" stroke="#444444" stroke-width="1.1" />
<text x="541.80" y="251.40" font-family="'Liberation Sans', Arial, sans-serif" font-size="12.6" text-anchor="middle" fill="#4d4d4d" font-weight="normal" >232</text>
<line x1="574.80" y1="237.40" x2="574.80" y2="240.10" stroke="#444444" stroke-width="1.1" />
<text x="574.80" y="251.40" font-family="'Liberation Sans', Arial, sans-serif" font-size="12.6" text-anchor="middle" fill="#4d4d4d" font-weight="normal" >236</text>
<line x1="607.80" y1="237.40" x2="607.80" y2="240.10" stroke="#444444" stroke-width="1.1" />
<text x="607.80" y="251.40" font-family="'Liberation Sans', Arial, sans-serif" font-size="12.6" text-anchor="middle" fill="#4d4d4d" font-weight="normal" >240</text>
<line x1="640.80" y1="237.40" x2="640.80" y2="240.10" stroke="#444444" stroke-width="1.1" />
<text x="640.80" y="251.40" font-family="'Liberation Sans', Arial, sans-serif" font-size="12.6" text-anchor="middle" fill="#4d4d4d" font-weight="normal" >244</text>
<line x1="673.80" y1="237.40" x2="673.80" y2="240.10" stroke="#444444" stroke-width="1.1" />
<text x="673.80" y="251.40" font-family="'Liberation Sans', Arial, sans-serif" font-size="12.6" text-anchor="middle" fill="#4d4d4d" font-weight="normal" >248</text>
<line x1="77.50" y1="289.70" x2="80.50" y2="289.70" stroke="#444444" stroke-width="1.15" />
<line x1="77.50" y1="347.30" x2="80.50" y2="347.30" stroke="#444444" stroke-width="1.15" />
<line x1="77.50" y1="404.90" x2="80.50" y2="404.90" stroke="#444444" stroke-width="1.15" />
<line x1="77.50" y1="462.40" x2="80.50" y2="462.40" stroke="#444444" stroke-width="1.15" />
<line x1="77.50" y1="520.00" x2="80.50" y2="520.00" stroke="#444444" stroke-width="1.15" />
<line x1="231.80" y1="289.70" x2="234.80" y2="289.70" stroke="#444444" stroke-width="1.15" />
<line x1="231.80" y1="347.30" x2="234.80" y2="347.30" stroke="#444444" stroke-width="1.15" />
<line x1="231.80" y1="404.90" x2="234.80" y2="404.90" stroke="#444444" stroke-width="1.15" />
<line x1="231.80" y1="462.40" x2="234.80" y2="462.40" stroke="#444444" stroke-width="1.15" />
<line x1="231.80" y1="520.00" x2="234.80" y2="520.00" stroke="#444444" stroke-width="1.15" />
<line x1="463.10" y1="289.70" x2="466.10" y2="289.70" stroke="#444444" stroke-width="1.15" />
<line x1="463.10" y1="347.30" x2="466.10" y2="347.30" stroke="#444444" stroke-width="1.15" />
<line x1="463.10" y1="404.90" x2="466.10" y2="404.90" stroke="#444444" stroke-width="1.15" />
<line x1="463.10" y1="462.40" x2="466.10" y2="462.40" stroke="#444444" stroke-width="1.15" />
<line x1="463.10" y1="520.00" x2="466.10" y2="520.00" stroke="#444444" stroke-width="1.15" />
<text x="75.40" y="294.10" font-family="'Liberation Sans', Arial, sans-serif" font-size="12.6" text-anchor="end" fill="#4d4d4d" font-weight="normal" >100</text>
<text x="75.40" y="351.70" font-family="'Liberation Sans', Arial, sans-serif" font-size="12.6" text-anchor="end" fill="#4d4d4d" font-weight="normal" >75</text>
<text x="75.40" y="409.30" font-family="'Liberation Sans', Arial, sans-serif" font-size="12.6" text-anchor="end" fill="#4d4d4d" font-weight="normal" >50</text>
<text x="75.40" y="466.80" font-family="'Liberation Sans', Arial, sans-serif" font-size="12.6" text-anchor="end" fill="#4d4d4d" font-weight="normal" >25</text>
<text x="75.40" y="524.40" font-family="'Liberation Sans', Arial, sans-serif" font-size="12.6" text-anchor="end" fill="#4d4d4d" font-weight="normal" >0</text>
<line x1="118.20" y1="531.30" x2="118.20" y2="534.00" stroke="#444444" stroke-width="1.1" />
<line x1="182.80" y1="531.30" x2="182.80" y2="534.00" stroke="#444444" stroke-width="1.1" />
<line x1="294.20" y1="531.30" x2="294.20" y2="534.00" stroke="#444444" stroke-width="1.1" />
<line x1="393.40" y1="531.30" x2="393.40" y2="534.00" stroke="#444444" stroke-width="1.1" />
<line x1="525.50" y1="531.30" x2="525.50" y2="534.00" stroke="#444444" stroke-width="1.1" />
<line x1="624.80" y1="531.30" x2="624.80" y2="534.00" stroke="#444444" stroke-width="1.1" />
<text transform="translate(16.6,119.2) rotate(-90)" font-family="'Liberation Sans', Arial, sans-serif" font-size="15.35" text-anchor="middle" fill="#000">r<tspan font-size="10.6" dy="3.5">bc</tspan><tspan dy="-3.5"> (MPa kg</tspan><tspan font-size="10.5" dy="-6.9">−1</tspan><tspan dy="6.9"> m</tspan><tspan font-size="10.5" dy="-6.9">2</tspan><tspan dy="6.9"> s)</tspan></text>
<text transform="translate(34.6,402.3) rotate(-90)" font-family="'Liberation Sans', Arial, sans-serif" font-size="15.35" text-anchor="middle" fill="#000">% r<tspan font-size="10.6" dy="3.5">bc</tspan></text>
<text x="348.60" y="268.20" font-family="'Liberation Sans', Arial, sans-serif" font-size="15.55" text-anchor="middle" fill="#000" font-weight="normal" >Day of year</text>
<text x="82.60" y="15.50" font-family="'DejaVu Sans', 'Liberation Sans', sans-serif" font-size="15.5" text-anchor="start" fill="#000" font-weight="bold" >a)</text>
<text x="241.20" y="15.80" font-family="'DejaVu Sans', 'Liberation Sans', sans-serif" font-size="15.5" text-anchor="start" fill="#000" font-weight="bold" >b)</text>
<text x="471.90" y="16.70" font-family="'DejaVu Sans', 'Liberation Sans', sans-serif" font-size="15.7" text-anchor="start" fill="#000" font-weight="bold" >c)</text>
<text x="213.00" y="17.50" font-family="'DejaVu Sans', 'Liberation Sans', sans-serif" font-size="15.4" text-anchor="end" fill="#000" font-weight="normal" >Winter</text>
<text x="437.90" y="17.50" font-family="'DejaVu Sans', 'Liberation Sans', sans-serif" font-size="15.55" text-anchor="end" fill="#000" font-weight="normal" >Spring</text>
<text x="680.70" y="18.90" font-family="'DejaVu Sans', 'Liberation Sans', sans-serif" font-size="15.55" text-anchor="end" fill="#000" font-weight="normal" >Summer</text>
<text x="82.10" y="33.50" font-family="'DejaVu Sans', 'Liberation Sans', sans-serif" font-size="11.6" text-anchor="start" fill="#000" font-weight="normal" >Defoliated: A</text>
<text x="82.10" y="47.90" font-family="'DejaVu Sans', 'Liberation Sans', sans-serif" font-size="11.6" text-anchor="start" fill="#000" font-weight="normal" >Non-defoliated: a</text>
<text x="240.20" y="32.20" font-family="'DejaVu Sans', 'Liberation Sans', sans-serif" font-size="11.6" text-anchor="start" fill="#000" font-weight="normal" >Defoliated: B</text>
<text x="240.20" y="46.60" font-family="'DejaVu Sans', 'Liberation Sans', sans-serif" font-size="11.6" text-anchor="start" fill="#000" font-weight="normal" >Non-defoliated: a</text>
<text x="474.00" y="33.30" font-family="'DejaVu Sans', 'Liberation Sans', sans-serif" font-size="11.6" text-anchor="start" fill="#000" font-weight="normal" >Defoliated: C</text>
<text x="474.00" y="47.70" font-family="'DejaVu Sans', 'Liberation Sans', sans-serif" font-size="11.6" text-anchor="start" fill="#000" font-weight="normal" >Non-defoliated: b</text>
<rect x="249.50" y="475.80" width="89.00" height="44.00" fill="#6b6b6b"/>
<rect x="348.60" y="446.60" width="89.30" height="73.20" fill="#6b6b6b"/>
<rect x="481.10" y="433.80" width="88.90" height="86.00" fill="#6b6b6b"/>
<rect x="580.40" y="367.00" width="88.60" height="152.80" fill="#6b6b6b"/>
<line x1="294.20" y1="466.40" x2="294.20" y2="484.20" stroke="#0a0a0a" stroke-width="1.25" />
<line x1="281.80" y1="466.40" x2="306.60" y2="466.40" stroke="#0a0a0a" stroke-width="1.25" />
<line x1="281.80" y1="484.20" x2="306.60" y2="484.20" stroke="#0a0a0a" stroke-width="1.25" />
<line x1="393.20" y1="424.50" x2="393.20" y2="468.50" stroke="#0a0a0a" stroke-width="1.25" />
<line x1="380.80" y1="424.50" x2="405.60" y2="424.50" stroke="#0a0a0a" stroke-width="1.25" />
<line x1="380.80" y1="468.50" x2="405.60" y2="468.50" stroke="#0a0a0a" stroke-width="1.25" />
<line x1="525.50" y1="420.40" x2="525.50" y2="446.80" stroke="#0a0a0a" stroke-width="1.25" />
<line x1="513.10" y1="420.40" x2="537.90" y2="420.40" stroke="#0a0a0a" stroke-width="1.25" />
<line x1="513.10" y1="446.80" x2="537.90" y2="446.80" stroke="#0a0a0a" stroke-width="1.25" />
<line x1="624.80" y1="321.80" x2="624.80" y2="411.30" stroke="#0a0a0a" stroke-width="1.25" />
<line x1="612.40" y1="321.80" x2="637.20" y2="321.80" stroke="#0a0a0a" stroke-width="1.25" />
<line x1="612.40" y1="411.30" x2="637.20" y2="411.30" stroke="#0a0a0a" stroke-width="1.25" />
<line x1="241.10" y1="391.60" x2="441.60" y2="391.60" stroke="#222" stroke-width="1.0" />
<line x1="479.40" y1="301.80" x2="680.00" y2="301.80" stroke="#222" stroke-width="1.0" />
<text x="336.10" y="379.10" font-family="'DejaVu Sans', 'Liberation Sans', sans-serif" font-size="17.4" text-anchor="middle" fill="#000" font-weight="normal" >A</text>
<text x="578.40" y="297.40" font-family="'DejaVu Sans', 'Liberation Sans', sans-serif" font-size="17.4" text-anchor="middle" fill="#000" font-weight="normal" >B</text>
<text x="293.60" y="454.00" font-family="'DejaVu Sans', 'Liberation Sans', sans-serif" font-size="17.4" text-anchor="middle" fill="#000" font-weight="normal" >a</text>
<text x="393.20" y="414.80" font-family="'DejaVu Sans', 'Liberation Sans', sans-serif" font-size="17.4" text-anchor="middle" fill="#000" font-weight="normal" >a</text>
<text x="525.50" y="410.20" font-family="'DejaVu Sans', 'Liberation Sans', sans-serif" font-size="17.4" text-anchor="middle" fill="#000" font-weight="normal" >a</text>
<text x="623.90" y="316.80" font-family="'DejaVu Sans', 'Liberation Sans', sans-serif" font-size="17.4" text-anchor="middle" fill="#000" font-weight="normal" >a</text>
<text x="244.00" y="296.20" font-family="'DejaVu Sans', 'Liberation Sans', sans-serif" font-size="15.8" text-anchor="start" fill="#000" font-weight="bold" >d)</text>
<text x="475.20" y="296.90" font-family="'DejaVu Sans', 'Liberation Sans', sans-serif" font-size="16" text-anchor="start" fill="#000" font-weight="bold" >e)</text>
<text x="439.70" y="296.10" font-family="'DejaVu Sans', 'Liberation Sans', sans-serif" font-size="15.55" text-anchor="end" fill="#000" font-weight="normal" >Spring</text>
<text x="474.60" y="338.50" font-family="'DejaVu Sans', 'Liberation Sans', sans-serif" font-size="15.35" text-anchor="start" fill="#000" font-weight="normal" >Summer</text>
<text x="294.00" y="544.70" font-family="'Liberation Sans', Arial, sans-serif" font-size="12.4" text-anchor="middle" fill="#4d4d4d" font-weight="normal" >Defoliated</text>
<text x="393.40" y="544.70" font-family="'Liberation Sans', Arial, sans-serif" font-size="12.4" text-anchor="middle" fill="#4d4d4d" font-weight="normal" >Non&#160;&#160;defoliated</text>
<text x="525.40" y="544.70" font-family="'Liberation Sans', Arial, sans-serif" font-size="12.4" text-anchor="middle" fill="#4d4d4d" font-weight="normal" >Defoliated</text>
<text x="624.80" y="544.70" font-family="'Liberation Sans', Arial, sans-serif" font-size="12.4" text-anchor="middle" fill="#4d4d4d" font-weight="normal" >Non&#160;&#160;defoliated</text>
</svg>
</body></html>
